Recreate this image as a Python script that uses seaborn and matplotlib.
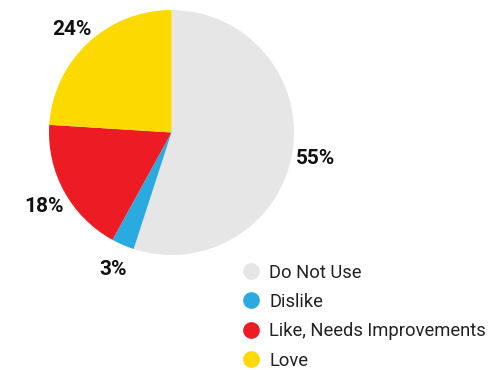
import matplotlib
matplotlib.use("Agg")
import matplotlib.pyplot as plt
import seaborn as sns
from matplotlib.lines import Line2D

categorias = ["Do Not Use", "Dislike", "Like, Needs Improvements", "Love"]
porcentajes = [55, 3, 18, 24]
colores = ["#e6e6e6", "#29abe2", "#ed1c24", "#fcd900"]

sns.set_theme(style="white")
plt.rcParams["font.family"] = ["Roboto", "DejaVu Sans"]

fig = plt.figure(figsize=(4.99, 3.70), dpi=100)
ax = fig.add_axes([49 / 499, 115 / 370, 245 / 499, 245 / 370])

wedges, textos, pcts = ax.pie(
    porcentajes, colors=colores, startangle=90, counterclock=False,
    autopct=lambda p: f"{p:.0f}%", pctdistance=1.19,
    wedgeprops=dict(linewidth=0),
    textprops=dict(fontsize=15, fontweight="bold", color="#111111"),
)
# bajar un poco las etiquetas
for t in pcts:
    x, y = t.get_position()
    t.set_position((x, y - 0.03))
ax.set_aspect("equal")
ax.set_xlim(-1, 1)
ax.set_ylim(-1, 1)

# leyenda con circulos
handles = [Line2D([0], [0], marker="o", linestyle="", markersize=11,
                  markerfacecolor=c, markeredgecolor=c) for c in colores]
fig.legend(handles, categorias, loc="upper left",
           bbox_to_anchor=(226 / 499, 1 - 247 / 370), frameon=False,
           fontsize=13.2, labelspacing=0.62, handletextpad=0.55,
           handlelength=0.9, labelcolor="#222222")

fig.savefig("out.png", dpi=100)
